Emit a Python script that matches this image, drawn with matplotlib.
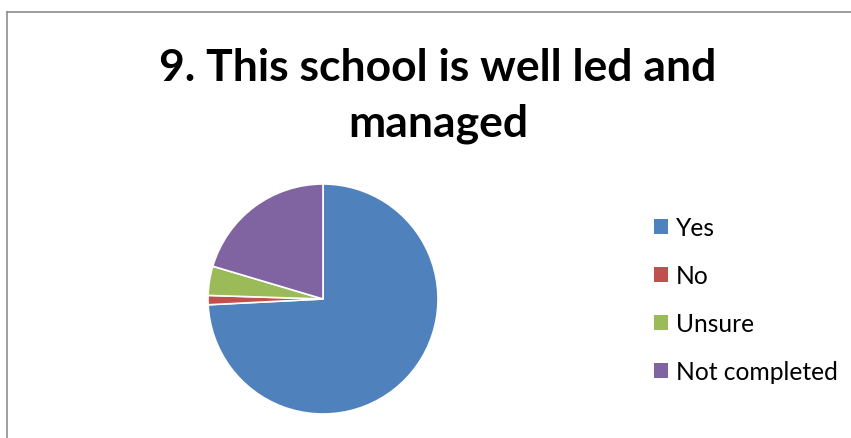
import matplotlib
matplotlib.use("Agg")
import matplotlib.pyplot as plt
from matplotlib.lines import Line2D
from matplotlib.patches import Patch

labels = ["Yes", "No", "Unsure", "Not completed"]
values = [74.2, 1.3, 4.1, 20.4]
colors = ["#4f81bd", "#c0504d", "#9bbb59", "#8064a2"]
title = "9. This school is well led and\nmanaged"

W, H = 851, 439
fig = plt.figure(figsize=(W / 100, H / 100), dpi=100)

# chart frame (runs off right and bottom edges)
fy = 1 - 12.5 / H
fx = 6.5 / W
fig.add_artist(Line2D([fx, 1.0], [fy, fy], transform=fig.transFigure, color="#8c8c8c", lw=1.2))
fig.add_artist(Line2D([fx, fx], [0.0, fy], transform=fig.transFigure, color="#8c8c8c", lw=1.2))

fig.text(438 / W, 1 - 96 / H, title, ha="center", va="center", fontsize=32,
         fontweight="bold", family="Lato", linespacing=1.48, color="black")

cx, cy, r = 323, 300, 115
ax = fig.add_axes([(cx - r) / W, 1 - (cy + r) / H, 2 * r / W, 2 * r / H])
ax.pie(values, colors=colors, startangle=90, counterclock=False,
       wedgeprops=dict(edgecolor="white", linewidth=1.2))
ax.set_xlim(-1, 1)
ax.set_ylim(-1, 1)
ax.set_aspect("auto")
ax.axis("off")

handles = [Patch(facecolor=c, edgecolor="none") for c in colors]
fig.legend(handles, labels, loc="center left", bbox_to_anchor=(654 / W, 1 - 300.5 / H),
           frameon=False, prop={"family": "Lato", "size": 17.7}, borderpad=0,
           borderaxespad=0, handlelength=0.57, handleheight=0.57,
           handletextpad=0.33, labelspacing=1.02)

fig.savefig("out.png", dpi=100)
